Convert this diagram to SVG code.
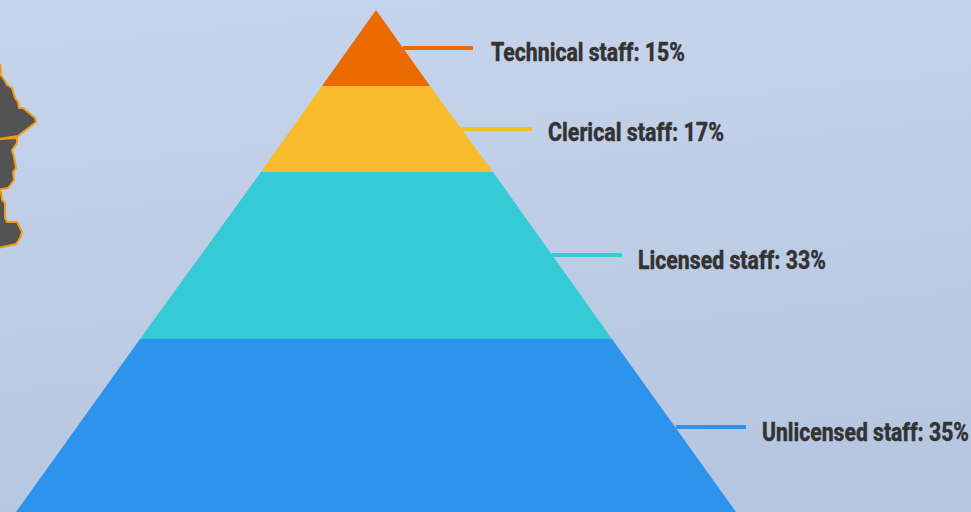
<svg xmlns="http://www.w3.org/2000/svg" width="971" height="512" viewBox="0 0 971 512">
<style>
.lbl{font-family:"Roboto","Liberation Sans",sans-serif;font-weight:800;font-size:25px;fill:#333333;stroke:#333333;stroke-width:0.35}
.c{stroke-width:4;fill:none}
.map{fill:#535353;stroke:#f29a12;stroke-width:2;stroke-linejoin:round}
</style>
<defs>
<linearGradient id="bg" x1="0.4" y1="0" x2="0.6" y2="1">
<stop offset="0" stop-color="#c6d4eb"/>
<stop offset="1" stop-color="#b5c6e0"/>
</linearGradient>
</defs>
<rect width="971" height="512" fill="url(#bg)"/>
<g id="map">
<path class="map" d="M0.5 65L0.7 75L5 81L7 85L12 88L15 98L18 102L19 108L23 108L35 118L36 122L18 136L-2 139L-2 65Z"/>
<path class="map" d="M-2 139L17 138L17 143L12 150L14 157L16 168L13 172L14 180L8 188L-2 190Z"/>
<path class="map" d="M-2 191L1 192L2 200L5 203L5 218L7 222L17 222L22 232L20 238L16 244L7 246L-2 248Z"/>
</g>
<g id="technical-staff">
<polygon points="376,10 430,86 322,86" fill="#ea6a00"/>
<text class="lbl" x="491" y="60.7" textLength="194" lengthAdjust="spacingAndGlyphs">Technical staff: 15%</text>
</g>
<g id="clerical-staff">
<polygon points="322,86 430,86 493,172 261,172" fill="#f8bb2b"/>
<text class="lbl" x="548" y="140.7" textLength="176" lengthAdjust="spacingAndGlyphs">Clerical staff: 17%</text>
</g>
<g id="licensed-staff">
<polygon points="261,172 493,172 612,339 140,339" fill="#34cbd6"/>
<text class="lbl" x="638" y="268.7" textLength="188" lengthAdjust="spacingAndGlyphs">Licensed staff: 33%</text>
</g>
<g id="unlicensed-staff">
<polygon points="140,339 612,339 736,512 16,512" fill="#2e93ec"/>
<text class="lbl" x="762" y="440.7" textLength="207" lengthAdjust="spacingAndGlyphs">Unlicensed staff: 35%</text>
</g>
<g id="connectors">
<line class="c" x1="403" y1="48" x2="473" y2="48" stroke="#ea6a00"/>
<line class="c" x1="462" y1="129" x2="532" y2="129" stroke="#f8bb2b"/>
<line class="c" x1="552" y1="255" x2="622" y2="255" stroke="#34cbd6"/>
<line class="c" x1="676" y1="427" x2="746" y2="427" stroke="#2e93ec"/>
</g>
</svg>
